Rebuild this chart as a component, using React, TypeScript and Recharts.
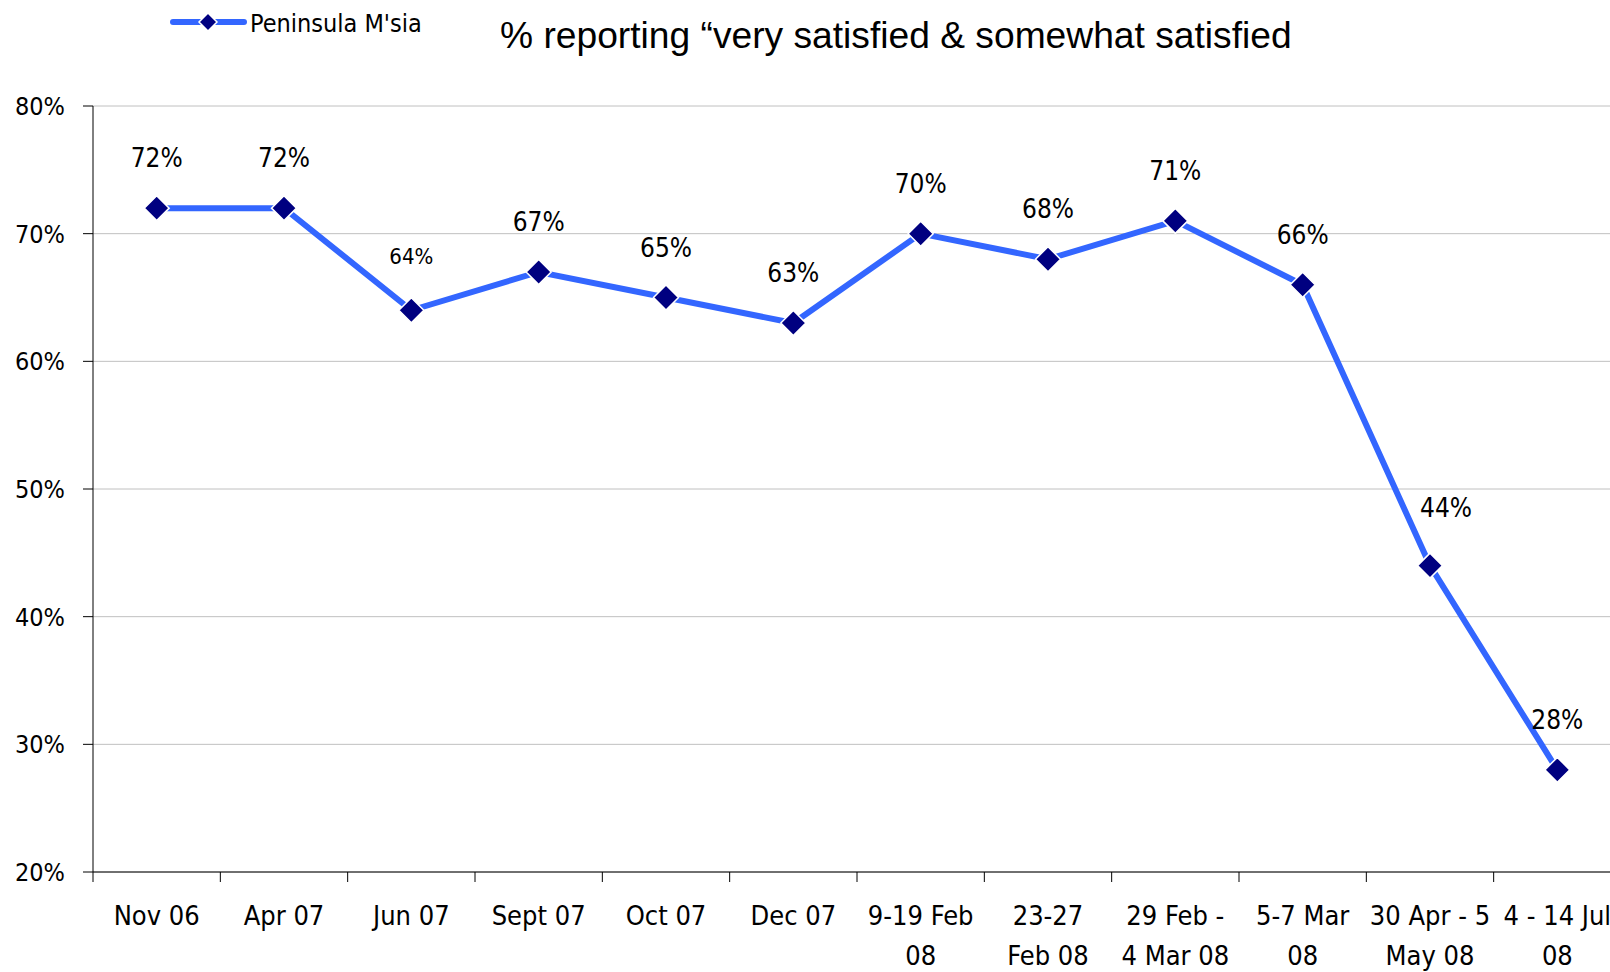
import React from "react";
import { LineChart, Line, XAxis, YAxis, CartesianGrid, LabelList } from "recharts";

const categories: string[] = [
  "Nov 06",
  "Apr 07",
  "Jun 07",
  "Sept 07",
  "Oct 07",
  "Dec 07",
  "9-19 Feb\n08",
  "23-27\nFeb 08",
  "29 Feb -\n4 Mar 08",
  "5-7 Mar\n08",
  "30 Apr - 5\nMay 08",
  "4 - 14 Jul\n08",
];
const seriesName = "Peninsula M'sia";
const values: number[] = [72, 72, 64, 67, 65, 63, 70, 68, 71, 66, 44, 28];
const yTicks: number[] = [20, 30, 40, 50, 60, 70, 80];
const title = "% reporting \u201cvery satisfied & somewhat satisfied";

const tableData = categories.map((c, i) => ({ x: i + 0.5, name: c, v: values[i] }));
const xBoundaryTicks = categories.map((_, i) => i).concat([categories.length]);

const NARROW = "'Liberation Sans Narrow', 'Arial Narrow', 'DejaVu Sans Condensed', sans-serif";
const SANS = "'Liberation Sans', Arial, sans-serif";

const CHART_W = 1640;
const CHART_H = 972;
const MARGIN = { top: 106, right: 19, left: 0, bottom: 0 };
const Y_W = 93;
const PLOT_W = CHART_W - MARGIN.left - MARGIN.right - Y_W;
const HALF_BAND = PLOT_W / categories.length / 2;

const BLUE = "#3366ff";
const NAVY = "#000080";

const XTick = (props: any) => {
  const { x, y, payload } = props;
  const i = payload.value;
  if (i >= categories.length) return null;
  const lines = categories[i].split("\n");
  return (
    <text
      x={x + HALF_BAND}
      y={y}
      textAnchor="middle"
      fontFamily={NARROW}
      fontSize={27}
      fill="#000"
    >
      {lines.map((l, k) => (
        <tspan key={k} x={x + HALF_BAND} dy={k === 0 ? 43 : 40}>
          {l}
        </tspan>
      ))}
    </text>
  );
};

const Diamond = (props: any) => {
  const { cx, cy } = props;
  if (cx == null || cy == null) return null;
  const r = 12.5;
  return (
    <path
      d={`M${cx},${cy - r} L${cx + r},${cy} L${cx},${cy + r} L${cx - r},${cy} Z`}
      fill={NAVY}
      stroke="#fff"
      strokeWidth={1.5}
    />
  );
};

// label placement nudges (Excel moved a couple of labels off the line)
const labelNudge = (index: number) => {
  if (index === 2) return { dx: 0, dy: -5 };
  if (index === 10) return { dx: 16, dy: -8 };
  return { dx: 0, dy: 0 };
};

const DataLabel = (props: any) => {
  const { x, y, value, index } = props;
  const n = labelNudge(index);
  return (
    <text
      x={x + n.dx}
      y={y - 41 + n.dy}
      textAnchor="middle"
      fontFamily={NARROW}
      fontSize={index === 2 ? 22 : 26}
      fill="#000"
    >
      {`${value}%`}
    </text>
  );
};

export default function App() {
  return (
    <div
      style={{
        position: "absolute",
        left: 0,
        top: 0,
        width: 1610,
        height: 972,
        overflow: "hidden",
        background: "#fff",
      }}
    >
      <LineChart width={CHART_W} height={CHART_H} data={tableData} margin={MARGIN}>
        <CartesianGrid horizontal={true} vertical={false} stroke="#c0c0c0" />
        <XAxis
          dataKey="x"
          type="number"
          domain={[0, categories.length]}
          ticks={xBoundaryTicks}
          interval={0}
          height={100}
          tickSize={10}
          tickMargin={0}
          axisLine={{ stroke: "#000" }}
          tickLine={{ stroke: "#000" }}
          tick={<XTick />}
        />
        <YAxis
          type="number"
          domain={[20, 80]}
          ticks={yTicks}
          interval={0}
          width={Y_W}
          tickSize={10}
          tickMargin={18}
          axisLine={{ stroke: "#000" }}
          tickLine={{ stroke: "#000" }}
          tickFormatter={(v: number) => `${v}%`}
          tick={{ fontSize: 25, fontFamily: NARROW, fill: "#000" }}
        />
        <Line
          type="linear"
          dataKey="v"
          name={seriesName}
          stroke={BLUE}
          strokeWidth={6}
          dot={<Diamond />}
          activeDot={false}
          isAnimationActive={false}
        >
          <LabelList dataKey="v" content={<DataLabel />} />
        </Line>
      </LineChart>
      <svg
        width={1610}
        height={972}
        style={{ position: "absolute", left: 0, top: 0, pointerEvents: "none" }}
      >
        <line x1={173} y1={22} x2={244} y2={22} stroke={BLUE} strokeWidth={6} strokeLinecap="round" />
        <path d="M208,13 L217,22 L208,31 L199,22 Z" fill={NAVY} stroke="#fff" strokeWidth={1.5} />
        <text x={250} y={32} fontFamily={NARROW} fontSize={25} fill="#000">
          {seriesName}
        </text>
        <text x={500} y={48} fontFamily={SANS} fontSize={37.2} fill="#000">
          {title}
        </text>
      </svg>
    </div>
  );
}
